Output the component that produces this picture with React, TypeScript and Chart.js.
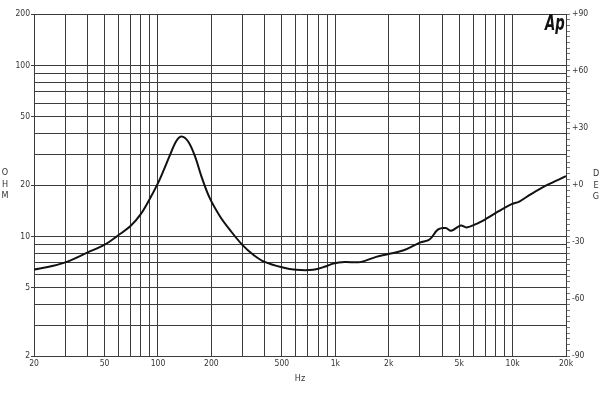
import { useEffect, useRef } from "react";
import Chart from "chart.js/auto";

// impedance sweep
const freqHz = [
  20, 25, 30, 40, 50, 60, 70, 80, 90, 100, 107, 117, 127, 136, 148, 162, 176, 196, 224, 255, 300, 346, 400,
  500, 600, 750, 880, 975, 1130, 1380, 1700, 2000, 2430, 3000, 3400, 3800, 4200, 4500, 5100, 5500, 6200,
  7100, 8300, 9800, 10900, 12700, 15500, 20000,
];
const ohms = [
  6.4, 6.7, 7.05, 8.05, 8.95, 10.2, 11.5, 13.5, 16.6, 20.5, 24.0, 30.0, 36.2, 38.4, 35.9, 29.3, 22.4, 16.75,
  13.1, 10.9, 8.9, 7.8, 7.1, 6.6, 6.38, 6.38, 6.67, 6.95, 7.1, 7.08, 7.6, 7.9, 8.3, 9.2, 9.6, 11.0, 11.2,
  10.8, 11.6, 11.3, 11.8, 12.7, 14.0, 15.4, 16.0, 17.7, 19.9, 22.5,
];

const hzGrid = [
  20, 30, 40, 50, 60, 70, 80, 90, 100, 200, 300, 400, 500, 600, 700, 800, 900, 1000, 2000, 3000, 4000, 5000,
  6000, 7000, 8000, 9000, 10000, 20000,
];
const hzLabelValues = [20, 50, 100, 200, 500, 1000, 2000, 5000, 10000, 20000];
const hzLabelText = ["20", "50", "100", "200", "500", "1k", "2k", "5k", "10k", "20k"];

const ohmGrid = [2, 3, 4, 5, 6, 7, 8, 9, 10, 20, 30, 40, 50, 60, 70, 80, 90, 100, 200];
const ohmLabels = [2, 5, 10, 20, 50, 100, 200];

const degLabelValues = [-90, -60, -30, 0, 30, 60, 90];
const degLabelText = ["-90", "-60", "-30", "+0", "+30", "+60", "+90"];

const narrow = "'Liberation Sans Narrow', 'DejaVu Sans Condensed', sans-serif";
const ink = "#333";
const gridColor = "#3c3c3c";

const sideText = {
  id: "sideText",
  afterDraw(chart: Chart) {
    const ctx = chart.ctx;
    ctx.save();
    ctx.fillStyle = ink;
    ctx.font = `9px ${narrow}`;
    ctx.textAlign = "center";
    ctx.textBaseline = "middle";
    "OHM".split("").forEach((c, i) => ctx.fillText(c, 5, 173 + i * 11.5));
    "DEG".split("").forEach((c, i) => ctx.fillText(c, 596, 174 + i * 11.5));
    ctx.fillText("Hz", 300, 379);

    // Ap logo
    ctx.fillStyle = "#111";
    ctx.textAlign = "left";
    ctx.textBaseline = "alphabetic";
    ctx.translate(545, 30);
    ctx.scale(0.7, 1);
    ctx.font = `italic bold 21px ${narrow}`;
    ctx.fillText("Ap", 0, 0);
    ctx.restore();
  },
};

export default function App() {
  const canvasRef = useRef<HTMLCanvasElement>(null);

  useEffect(() => {
    const canvas = canvasRef.current;
    if (!canvas) return;

    const chart = new Chart(canvas.getContext("2d")!, {
      type: "scatter",
      data: {
        datasets: [
          {
            label: "Impedance",
            data: freqHz.map((f, i) => ({ x: f, y: ohms[i] })),
            showLine: true,
            borderColor: "#111",
            borderWidth: 2,
            pointRadius: 0,
            tension: 0.35,
            yAxisID: "y",
          },
        ],
      },
      options: {
        animation: false,
        responsive: true,
        maintainAspectRatio: false,
        layout: { padding: { top: 14, left: 0, right: 0, bottom: 0 } },
        plugins: { legend: { display: false }, tooltip: { enabled: false } },
        scales: {
          x: {
            type: "logarithmic",
            min: 20,
            max: 20000,
            afterBuildTicks: (axis) => {
              axis.ticks = hzGrid.map((v) => ({ value: v }));
            },
            afterFit: (axis) => {
              axis.height = 44;
            },
            ticks: {
              autoSkip: false,
              maxRotation: 0,
              padding: 3,
              color: ink,
              font: { size: 8.5, family: narrow },
              callback: (v) => {
                const i = hzLabelValues.indexOf(Number(v));
                return i >= 0 ? hzLabelText[i] : "";
              },
            },
            grid: { color: gridColor, lineWidth: 1, drawTicks: false },
            border: { color: gridColor },
          },
          y: {
            type: "logarithmic",
            position: "left",
            min: 2,
            max: 200,
            afterBuildTicks: (axis) => {
              axis.ticks = ohmGrid.map((v) => ({ value: v }));
            },
            afterFit: (axis) => {
              axis.width = 34;
            },
            ticks: {
              autoSkip: false,
              padding: 1,
              color: ink,
              font: { size: 8.5, family: narrow },
              callback: (v) => (ohmLabels.includes(Number(v)) ? String(v) : ""),
            },
            grid: {
              color: gridColor,
              lineWidth: 1,
              tickLength: 3,
              tickColor: (c) => (ohmLabels.includes(c.tick?.value) ? gridColor : "transparent"),
            },
            border: { color: gridColor },
          },
          deg: {
            type: "linear",
            position: "right",
            min: -90,
            max: 90,
            afterFit: (axis) => {
              axis.width = 34;
            },
            ticks: {
              stepSize: 3,
              autoSkip: false,
              padding: 2,
              color: ink,
              font: { size: 8.5, family: narrow },
              callback: (v) => {
                const i = degLabelValues.indexOf(Number(v));
                return i >= 0 ? degLabelText[i] : "";
              },
            },
            grid: { drawOnChartArea: false, tickLength: 4, color: "#777" },
            border: { color: gridColor },
          },
        },
      },
      plugins: [sideText],
    });

    return () => chart.destroy();
  }, []);

  return (
    <div style={{ position: "fixed", left: 0, top: 0, width: 600, height: 400, background: "#fff" }}>
      <canvas ref={canvasRef} />
    </div>
  );
}
